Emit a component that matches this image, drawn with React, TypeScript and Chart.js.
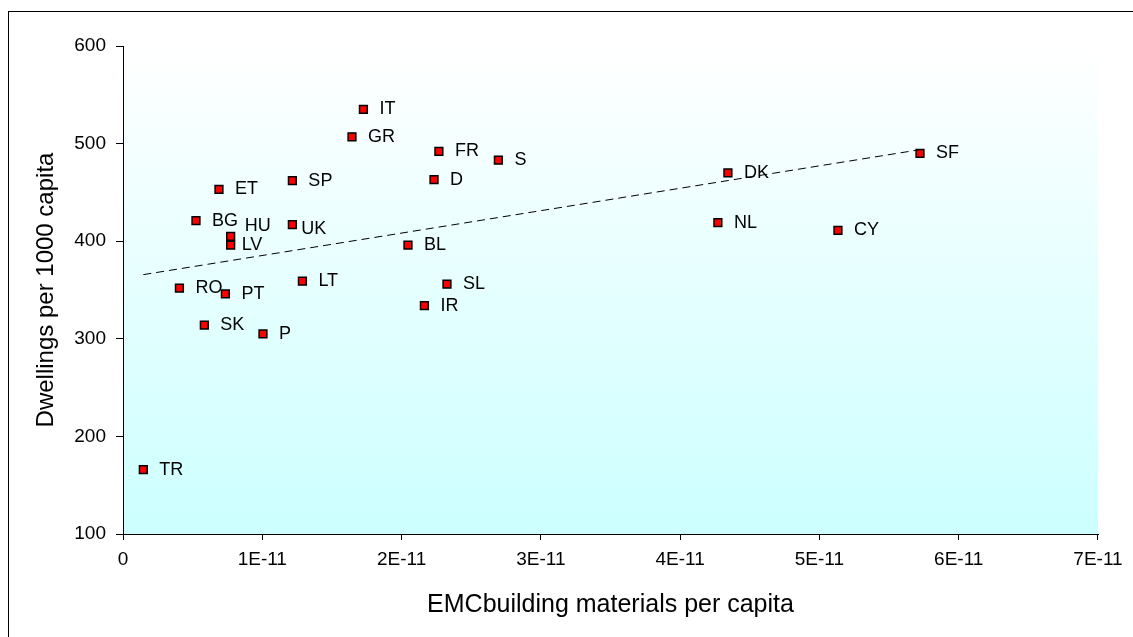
import React, { useEffect, useRef } from "react";
import { Chart, registerables } from "chart.js";

Chart.register(...registerables);

// ---- data ----
const countries = [
  "TR", "RO", "BG", "ET", "HU", "LV", "PT", "SK", "P", "SP", "UK", "LT",
  "GR", "IT", "FR", "S", "D", "BL", "SL", "IR", "DK", "NL", "CY", "SF",
];
const emcPerCapita = [
  0.146e-11, 0.405e-11, 0.524e-11, 0.689e-11, 0.773e-11, 0.773e-11, 0.735e-11, 0.584e-11,
  1.005e-11, 1.216e-11, 1.216e-11, 1.288e-11, 1.644e-11, 1.726e-11, 2.268e-11, 2.695e-11,
  2.233e-11, 2.046e-11, 2.326e-11, 2.164e-11, 4.343e-11, 4.271e-11, 5.133e-11, 5.722e-11,
];
const dwellingsPer1000 = [
  166, 352, 421, 453, 405, 396, 346, 314, 305, 462, 417, 359,
  507, 535, 492, 483, 463, 396, 356, 334, 470, 419, 411, 490,
];
const xTickLabels = ["0", "1E-11", "2E-11", "3E-11", "4E-11", "5E-11", "6E-11", "7E-11"];
const yTickValues = [100, 200, 300, 400, 500, 600];

const xTitle = "EMCbuilding materials per capita";
const yTitle = "Dwellings per 1000 capita";

// label placement tweaks (pixels, relative to marker centre)
const labelOffsets: Record<string, [number, number]> = {
  HU: [14, -10],
  LV: [11, 0],
  UK: [9, 4],
};
const defaultLabelOffset: [number, number] = [16, 0];

const FONT = "'Liberation Sans', Arial, Helvetica, sans-serif";

// linear least-squares trendline (as drawn by the spreadsheet)
function trendline(xs: number[], ys: number[]) {
  const n = xs.length;
  const mx = xs.reduce((a, b) => a + b, 0) / n;
  const my = ys.reduce((a, b) => a + b, 0) / n;
  let sxx = 0, sxy = 0;
  for (let i = 0; i < n; i++) {
    sxx += (xs[i] - mx) * (xs[i] - mx);
    sxy += (xs[i] - mx) * (ys[i] - my);
  }
  const slope = sxy / sxx;
  const x0 = Math.min(...xs);
  const x1 = Math.max(...xs);
  return [
    { x: x0, y: my + slope * (x0 - mx) },
    { x: x1, y: my + slope * (x1 - mx) },
  ];
}

const backgroundPlugin = {
  id: "bgFrame",
  beforeDraw(chart: any) {
    const { ctx, chartArea: a, width, height } = chart;
    ctx.save();
    ctx.fillStyle = "#ffffff";
    ctx.fillRect(0, 0, width, height);
    ctx.strokeStyle = "#000000";
    ctx.lineWidth = 1;
    ctx.strokeRect(8.5, 11.5, width + 20, height + 20);
    const g = ctx.createLinearGradient(0, a.top, 0, a.bottom);
    g.addColorStop(0, "#ffffff");
    g.addColorStop(1, "#ccffff");
    ctx.fillStyle = g;
    ctx.fillRect(a.left, a.top, a.right - a.left, a.bottom - a.top);
    ctx.restore();
  },
};

const labelPlugin = {
  id: "pointLabels",
  afterDatasetsDraw(chart: any) {
    const meta = chart.getDatasetMeta(0);
    const { ctx } = chart;
    ctx.save();
    ctx.font = `18px ${FONT}`;
    ctx.fillStyle = "#000000";
    ctx.textAlign = "left";
    ctx.textBaseline = "middle";
    meta.data.forEach((pt: any, i: number) => {
      const name = countries[i];
      const [dx, dy] = labelOffsets[name] || defaultLabelOffset;
      ctx.fillText(name, pt.x + dx, pt.y + dy);
    });
    ctx.restore();
  },
};

export default function App() {
  const canvasRef = useRef<HTMLCanvasElement | null>(null);

  useEffect(() => {
    if (!canvasRef.current) return;
    const points = countries.map((_, i) => ({ x: emcPerCapita[i], y: dwellingsPer1000[i] }));
    const trend = trendline(emcPerCapita, dwellingsPer1000);

    const chart = new Chart(canvasRef.current, {
      type: "scatter",
      data: {
        datasets: [
          {
            label: "Countries",
            data: points,
            pointStyle: "rect",
            pointRadius: 5.5,
            pointHoverRadius: 5.5,
            backgroundColor: "#ff0000",
            borderColor: "#000000",
            borderWidth: 1.5,
            order: 1,
          },
          {
            label: "Trend",
            data: trend,
            showLine: true,
            borderColor: "#000000",
            borderWidth: 1,
            borderDash: [8, 5],
            pointRadius: 0,
            pointHoverRadius: 0,
            fill: false,
            order: 0,
          } as any,
        ],
      },
      options: {
        responsive: false,
        animation: false,
        devicePixelRatio: 1,
        layout: { padding: { left: 0, top: 46, right: 35, bottom: 0 } },
        plugins: {
          legend: { display: false },
          tooltip: { enabled: false },
        },
        events: [],
        scales: {
          x: {
            type: "linear",
            min: 0,
            max: 7e-11,
            afterFit(scale: any) {
              scale.height = 103;
            },
            afterBuildTicks(scale: any) {
              scale.ticks = xTickLabels.map((_, i) => ({ value: i * 1e-11 }));
            },
            ticks: {
              callback: (_v: any, i: number) => xTickLabels[i],
              font: { family: FONT, size: 19 },
              color: "#000000",
              padding: 8,
              maxRotation: 0,
              autoSkip: false,
            },
            grid: {
              display: true,
              drawOnChartArea: false,
              drawTicks: true,
              tickLength: 6,
              color: "#000000",
            },
            border: { display: true, color: "#000000", width: 1 },
            title: {
              display: true,
              text: xTitle,
              color: "#000000",
              font: { family: FONT, size: 25 },
              padding: { top: 0, bottom: 17 },
            },
          },
          y: {
            type: "linear",
            min: 100,
            max: 600,
            afterFit(scale: any) {
              scale.width = 123;
            },
            afterBuildTicks(scale: any) {
              scale.ticks = yTickValues.map((v) => ({ value: v }));
            },
            ticks: {
              callback: (v: any) => String(v),
              font: { family: FONT, size: 19 },
              color: "#000000",
              padding: 10,
            },
            grid: {
              display: true,
              drawOnChartArea: false,
              drawTicks: true,
              tickLength: 7,
              color: "#000000",
            },
            border: { display: true, color: "#000000", width: 1 },
            title: {
              display: true,
              text: yTitle,
              color: "#000000",
              font: { family: FONT, size: 24 },
              padding: { top: 32, bottom: 0 },
            },
          },
        },
      } as any,
      plugins: [backgroundPlugin, labelPlugin],
    });

    return () => chart.destroy();
  }, []);

  return (
    <div style={{ position: "absolute", left: 0, top: 0, width: 1133, height: 637, overflow: "hidden" }}>
      <canvas ref={canvasRef} width={1133} height={637} style={{ display: "block" }} />
    </div>
  );
}
